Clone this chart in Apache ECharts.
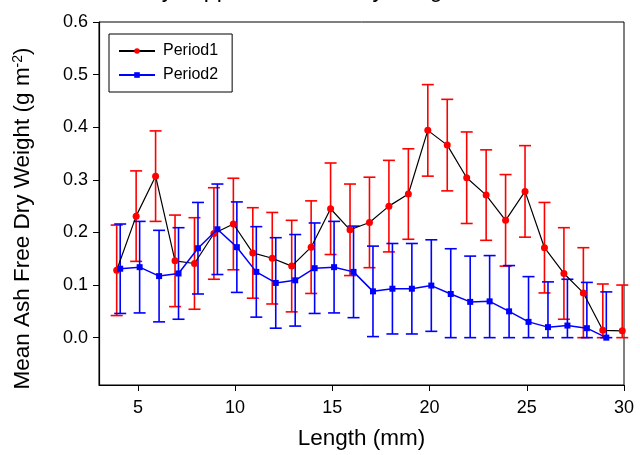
<!DOCTYPE html>
<html>
<head>
<meta charset="utf-8">
<script src="https://cdn.jsdelivr.net/npm/echarts@6/dist/echarts.min.js"></script>
<style>
  html, body { margin: 0; padding: 0; background: #fff; }
  #chart { width: 640px; height: 455px; }
</style>
</head>
<body>
<div id="chart"></div>
<script>
  // lengths (mm) for each period
  const lengths1 = [4, 5, 6, 7, 8, 9, 10, 11, 12, 13, 14, 15, 16, 17, 18, 19, 20, 21, 22, 23, 24, 25, 26, 27, 28, 29, 30]
  const lengths2 = [4, 5, 6, 7, 8, 9, 10, 11, 12, 13, 14, 15, 16, 17, 18, 19, 20, 21, 22, 23, 24, 25, 26, 27, 28, 29]

  const period1Mean = [0.128, 0.231, 0.307, 0.146, 0.141, 0.198, 0.216, 0.161, 0.151, 0.136, 0.172, 0.245, 0.205, 0.219,
    0.250, 0.273, 0.394, 0.366, 0.304, 0.271, 0.223, 0.278, 0.171, 0.122, 0.085, 0.014, 0.013]
  const period1Err = [0.086, 0.086, 0.086, 0.087, 0.087, 0.087, 0.087, 0.086, 0.087, 0.087, 0.088, 0.087, 0.087, 0.086,
    0.087, 0.086, 0.087, 0.087, 0.087, 0.086, 0.087, 0.087, 0.086, 0.087, 0.086, 0.088, 0.087]

  const period2Mean = [0.131, 0.134, 0.117, 0.122, 0.170, 0.206, 0.172, 0.125, 0.104, 0.109, 0.132, 0.134, 0.125,
    0.088, 0.093, 0.093, 0.099, 0.083, 0.068, 0.069, 0.050, 0.030, 0.020, 0.023, 0.018, 0.000]
  const period2Err = [0.085, 0.087, 0.087, 0.087, 0.087, 0.086, 0.086, 0.086, 0.086, 0.087, 0.086, 0.087, 0.087,
    0.086, 0.086, 0.086, 0.087, 0.086, 0.087, 0.087, 0.087, 0.086, 0.086, 0.088, 0.087, 0.087]

  const xTicks = [5, 10, 15, 20, 25, 30]
  const yTicks = [0, 0.1, 0.2, 0.3, 0.4, 0.5, 0.6]

  const FONT = 'Liberation Sans, Arial, sans-serif'
  // small horizontal dodge so the two periods don't sit exactly on top of each other
  const DODGE = 0.09

  function points(xs, means, shift) {
    return xs.map((x, i) => [x + shift, means[i]])
  }

  // error bars are cut at zero, like in the original plot
  function bars(xs, means, errs, shift) {
    return xs.map((x, i) => [x + shift, Math.max(0, means[i] - errs[i]), means[i] + errs[i]])
  }

  function errorBarSeries(name, data, color) {
    return {
      name: name,
      type: 'custom',
      data: data,
      encode: { x: 0, y: [1, 2] },
      z: 2,
      renderItem(params, api) {
        const top = api.coord([api.value(0), api.value(2)])
        const bottom = api.coord([api.value(0), api.value(1)])
        const half = 6
        const style = { stroke: color, lineWidth: 1.6 }
        return {
          type: 'group',
          children: [
            { type: 'line', shape: { x1: top[0], y1: top[1], x2: bottom[0], y2: bottom[1] }, style },
            { type: 'line', shape: { x1: top[0] - half, y1: top[1], x2: top[0] + half, y2: top[1] }, style },
            { type: 'line', shape: { x1: bottom[0] - half, y1: bottom[1], x2: bottom[0] + half, y2: bottom[1] }, style }
          ]
        }
      }
    }
  }

  const chart = echarts.init(document.getElementById('chart'))

  chart.setOption({
    animation: false,
    backgroundColor: '#fff',
    // the title is cut off at the top edge in the original, only descenders show
    title: {
      text: 'Mya spp., Ash Free Dry Weight, All Stations',
      left: 361,
      textAlign: 'center',
      top: -26,
      textStyle: { fontFamily: FONT, fontSize: 23, fontWeight: 'normal', color: '#000' }
    },
    legend: {
      data: ['Period1', 'Period2'],
      orient: 'vertical',
      left: 109,
      top: 34,
      borderColor: '#000',
      borderWidth: 1,
      padding: [9, 14, 9, 9],
      itemWidth: 36,
      itemHeight: 7,
      itemGap: 8,
      textStyle: { fontFamily: FONT, fontSize: 16, color: '#000', padding: [0, 0, 0, 3] }
    },
    grid: {
      left: 99,
      top: 22,
      right: 16,
      bottom: 66,
      show: true,
      borderColor: '#000',
      borderWidth: 1,
      backgroundColor: 'transparent'
    },
    xAxis: {
      type: 'value',
      min: 3,
      max: 30,
      name: 'Length (mm)',
      nameLocation: 'middle',
      nameGap: 42,
      nameTextStyle: { fontFamily: FONT, fontSize: 22.5, color: '#000' },
      axisLine: { onZero: false, lineStyle: { color: '#000', width: 1.2 } },
      axisTick: { inside: false, length: 6, customValues: xTicks, lineStyle: { color: '#000' } },
      axisLabel: { customValues: xTicks, margin: 14, fontFamily: FONT, fontSize: 18, color: '#000' },
      splitLine: { show: false }
    },
    yAxis: {
      type: 'value',
      min: -0.09,
      max: 0.6,
      name: 'Mean Ash Free Dry Weight (g m{sup|-2})',
      nameLocation: 'middle',
      nameGap: 64,
      nameTextStyle: {
        fontFamily: FONT, fontSize: 22.5, color: '#000',
        padding: [0, 30, 0, 0],
        rich: { sup: { fontFamily: FONT, fontSize: 14, verticalAlign: 'top', padding: [0, 0, 10, 0], color: '#000' } }
      },
      axisLine: { onZero: false, lineStyle: { color: '#000', width: 1.2 } },
      axisTick: { inside: false, length: 6, customValues: yTicks, lineStyle: { color: '#000' } },
      axisLabel: {
        customValues: yTicks,
        margin: 11,
        fontFamily: FONT,
        fontSize: 18,
        color: '#000',
        formatter: v => v.toFixed(1)
      },
      splitLine: { show: false }
    },
    series: [
      errorBarSeries('Period1 SE', bars(lengths1, period1Mean, period1Err, -DODGE), '#ff0000'),
      {
        name: 'Period1',
        type: 'line',
        data: points(lengths1, period1Mean, -DODGE),
        symbol: 'circle',
        symbolSize: 7,
        z: 3,
        itemStyle: { color: '#ff0000' },
        lineStyle: { color: '#000', width: 1.2 }
      },
      errorBarSeries('Period2 SE', bars(lengths2, period2Mean, period2Err, DODGE), '#0000ff'),
      {
        name: 'Period2',
        type: 'line',
        data: points(lengths2, period2Mean, DODGE),
        symbol: 'rect',
        symbolSize: 6,
        z: 4,
        itemStyle: { color: '#0000ff' },
        lineStyle: { color: '#0000ff', width: 1.5 }
      }
    ]
  })
</script>
</body>
</html>
